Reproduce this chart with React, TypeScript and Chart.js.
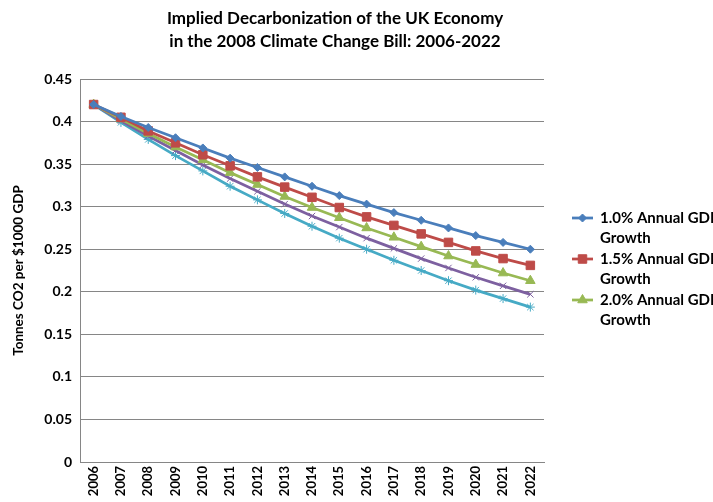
import React, { useEffect, useRef } from "react";
import { Chart, registerables } from "chart.js";
import { drawPoint } from "chart.js/helpers";

Chart.register(...registerables);

const TITLE_LINES = ["Implied Decarbonization of the UK Economy", "in the 2008 Climate Change Bill: 2006-2022"];
const Y_TITLE = "Tonnes CO2 per $1000 GDP";
const YEARS = ["2006", "2007", "2008", "2009", "2010", "2011", "2012", "2013", "2014", "2015", "2016", "2017", "2018", "2019", "2020", "2021", "2022"];

const GDP_1_0 = [0.42, 0.406, 0.393, 0.381, 0.369, 0.357, 0.346, 0.335, 0.324, 0.313, 0.303, 0.293, 0.284, 0.275, 0.266, 0.258, 0.25];
const GDP_1_5 = [0.42, 0.405, 0.389, 0.375, 0.361, 0.348, 0.335, 0.323, 0.311, 0.299, 0.288, 0.278, 0.268, 0.258, 0.248, 0.239, 0.231];
const GDP_2_0 = [0.42, 0.403, 0.386, 0.37, 0.355, 0.34, 0.326, 0.312, 0.299, 0.287, 0.275, 0.264, 0.253, 0.242, 0.232, 0.222, 0.213];
const GDP_2_5 = [0.42, 0.401, 0.383, 0.366, 0.349, 0.333, 0.318, 0.303, 0.289, 0.276, 0.263, 0.251, 0.239, 0.228, 0.217, 0.207, 0.197];
const GDP_3_0 = [0.42, 0.399, 0.379, 0.36, 0.342, 0.324, 0.308, 0.292, 0.277, 0.263, 0.25, 0.237, 0.225, 0.213, 0.202, 0.192, 0.182];

const SERIES_LABELS = [
  ["1.0% Annual GDP", "Growth"],
  ["1.5% Annual GDP", "Growth"],
  ["2.0% Annual GDP", "Growth"],
  ["2.5% Annual GDP", "Growth"],
  ["3.0% Annual GDP", "Growth"],
];
const SERIES_VALUES = [GDP_1_0, GDP_1_5, GDP_2_0, GDP_2_5, GDP_3_0];
const COLORS = ["#4A7EBB", "#BE4B48", "#98B954", "#7D60A0", "#46AAC5"];
const MARKERS = ["rectRot", "rect", "triangle", "crossRot", "star"];
const MARKER_SIZES = [4, 6, 5.5, 4.5, 4.5];

const FONT = "Lato, 'DejaVu Sans', sans-serif";

const titlePlugin = {
  id: "customTitle",
  afterDraw(chart: any) {
    const ctx = chart.ctx;
    ctx.save();
    ctx.font = `bold 17px ${FONT}`;
    ctx.fillStyle = "#000";
    ctx.textAlign = "center";
    ctx.textBaseline = "middle";
    TITLE_LINES.forEach((t, i) => ctx.fillText(t, 335, 19 + i * 23));
    ctx.restore();
  },
};

const legendPlugin = {
  id: "customLegend",
  afterDraw(chart: any) {
    const ctx = chart.ctx;
    const x0 = chart.chartArea.right + 28;
    ctx.save();
    for (let i = 0; i < 3; i++) {
      const ds = chart.data.datasets[i];
      const y = 218 + i * 41;
      ctx.strokeStyle = ds.borderColor;
      ctx.lineWidth = 2.75;
      ctx.beginPath();
      ctx.moveTo(x0, y);
      ctx.lineTo(x0 + 21, y);
      ctx.stroke();
      ctx.fillStyle = ds.backgroundColor;
      ctx.lineWidth = 1;
      drawPoint(ctx, { pointStyle: ds.pointStyle, radius: ds.pointRadius, rotation: 0, borderWidth: 1 }, x0 + 10.5, y);
      ctx.fillStyle = "#000";
      ctx.font = `bold 15px ${FONT}`;
      ctx.textAlign = "left";
      ctx.textBaseline = "middle";
      SERIES_LABELS[i].forEach((t, k) => ctx.fillText(t, x0 + 28, y + k * 20));
    }
    ctx.restore();
  },
};

export default function App() {
  const ref = useRef<HTMLCanvasElement | null>(null);
  useEffect(() => {
    if (!ref.current) return;
    const chart = new Chart(ref.current, {
      type: "line",
      data: {
        labels: YEARS,
        datasets: SERIES_VALUES.map((vals, i) => ({
          label: SERIES_LABELS[i].join(" "),
          data: vals,
          borderColor: COLORS[i],
          backgroundColor: COLORS[i],
          borderWidth: 2.75,
          pointStyle: MARKERS[i],
          pointRadius: MARKER_SIZES[i],
          pointBorderWidth: 1,
          pointBorderColor: COLORS[i],
          pointBackgroundColor: COLORS[i],
          tension: 0,
        })),
      },
      options: {
        animation: false,
        responsive: false,
        layout: { padding: { left: 0, top: 79, right: 169, bottom: 0 } },
        plugins: { legend: { display: false }, title: { display: false }, tooltip: { enabled: false } },
        scales: {
          x: {
            offset: true,
            grid: { display: false, drawTicks: false },
            border: { display: true, color: "#868686", width: 1 },
            ticks: {
              maxRotation: 90,
              minRotation: 90,
              padding: 4,
              color: "#000",
              font: { family: FONT, weight: "bold", size: 13 },
              autoSkip: false,
            },
            afterFit(scale: any) {
              scale.height = 40;
            },
          },
          y: {
            min: 0,
            max: 0.45,
            grid: { color: "#868686", lineWidth: 1, drawTicks: false },
            border: { display: true, color: "#868686", width: 1 },
            ticks: {
              stepSize: 0.05,
              padding: 8,
              color: "#000",
              font: { family: FONT, weight: "bold", size: 14 },
              callback: (v: any) => String(Number(Number(v).toFixed(2))),
            },
            title: {
              display: true,
              text: Y_TITLE,
              color: "#000",
              font: { family: FONT, weight: "bold", size: 13.5 },
              padding: { top: 11, bottom: 4 },
            },
            afterFit(scale: any) {
              scale.width = 80;
            },
          },
        },
      },
      plugins: [titlePlugin, legendPlugin],
    });
    return () => chart.destroy();
  }, []);
  return (
    <div style={{ position: "fixed", left: 0, top: 0, width: 713, height: 502, background: "#fff" }}>
      <canvas ref={ref} width={713} height={502} style={{ width: 713, height: 502 }} />
    </div>
  );
}
